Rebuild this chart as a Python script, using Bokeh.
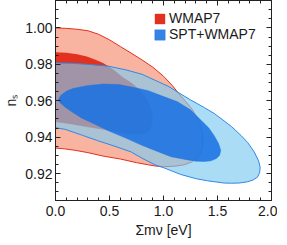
from bokeh.plotting import figure
from bokeh.models import Range1d, LinearAxis, FixedTicker, Legend, LegendItem
from bokeh.embed import file_html
from bokeh.resources import INLINE

# ---------------- data ----------------
x_ticks = [0.0, 0.5, 1.0, 1.5, 2.0]
x_tick_labels = ["0.0", "0.5", "1.0", "1.5", "2.0"]
x_minor = [0.0, 0.1, 0.2, 0.3, 0.4, 0.5, 0.6, 0.7, 0.8, 0.9, 1.0,
           1.1, 1.2, 1.3, 1.4, 1.5, 1.6, 1.7, 1.8, 1.9, 2.0]
y_ticks = [0.92, 0.94, 0.96, 0.98, 1.00]
y_tick_labels = ["0.92", "0.94", "0.96", "0.98", "1.00"]
y_minor = [0.905, 0.910, 0.915, 0.920, 0.925, 0.930, 0.935, 0.940, 0.945,
           0.950, 0.955, 0.960, 0.965, 0.970, 0.975, 0.980, 0.985, 0.990,
           0.995, 1.000, 1.005, 1.010, 1.015]

series_names = ["WMAP7", "SPT+WMAP7"]
x_title = "Σmν [eV]"
y_title = "nₛ"

# WMAP7 95% contour
red95_x = [0.00, 0.10, 0.20, 0.30, 0.40, 0.50, 0.60, 0.70, 0.80, 0.90, 1.00, 1.08,
           1.13, 1.20, 1.27, 1.33, 1.36, 1.365, 1.35, 1.32, 1.26, 1.19, 1.10, 1.00,
           0.92, 0.86, 0.75, 0.60, 0.45, 0.30, 0.18, 0.08, 0.00]
red95_y = [1.0000, 0.9998, 0.9993, 0.9985, 0.9965, 0.9935, 0.9898, 0.9862, 0.9825,
           0.9785, 0.9735, 0.9685, 0.9648, 0.9600, 0.9550, 0.9485, 0.9426, 0.9365,
           0.9320, 0.9292, 0.9263, 0.9248, 0.9240, 0.9238, 0.9242, 0.9248, 0.9260,
           0.9280, 0.9295, 0.9315, 0.9328, 0.9336, 0.9340]
# WMAP7 68% contour
red68_x = [0.00, 0.10, 0.20, 0.29, 0.37, 0.44, 0.49, 0.55, 0.62, 0.70, 0.76, 0.82,
           0.86, 0.89, 0.90, 0.895, 0.87, 0.82, 0.75, 0.65, 0.49, 0.35, 0.24, 0.12, 0.00]
red68_y = [0.9867, 0.9864, 0.9855, 0.9843, 0.9825, 0.9808, 0.9790, 0.9765, 0.9730,
           0.9700, 0.9670, 0.9630, 0.9595, 0.9550, 0.9510, 0.9470, 0.9435, 0.9420,
           0.9415, 0.9420, 0.9437, 0.9450, 0.9462, 0.9474, 0.9484]
# SPT+WMAP7 95% contour
blue95_x = [0.00, 0.15, 0.30, 0.49, 0.65, 0.80, 0.95, 1.05, 1.13, 1.25, 1.38, 1.47,
            1.56, 1.63, 1.72, 1.78, 1.84, 1.88, 1.895, 1.89, 1.87, 1.83, 1.78, 1.70,
            1.63, 1.56, 1.41, 1.30, 1.16, 1.01, 0.92, 0.80, 0.70, 0.55, 0.39, 0.25,
            0.09, 0.00]
blue95_y = [0.9808, 0.9806, 0.9800, 0.9790, 0.9770, 0.9746, 0.9705, 0.9678, 0.9648,
            0.9605, 0.9562, 0.9530, 0.9490, 0.9458, 0.9408, 0.9370, 0.9319, 0.9270,
            0.9235, 0.9205, 0.9180, 0.9165, 0.9155, 0.9148, 0.9147, 0.9148, 0.9160,
            0.9172, 0.9195, 0.9230, 0.9248, 0.9285, 0.9319, 0.9350, 0.9381, 0.9410,
            0.9443, 0.9452]
# SPT+WMAP7 68% contour
blue68_x = [0.025, 0.05, 0.10, 0.16, 0.29, 0.44, 0.59, 0.75, 0.86, 0.97, 1.13, 1.25,
            1.35, 1.42, 1.47, 1.51, 1.53, 1.52, 1.49, 1.44, 1.38, 1.30, 1.225, 1.07,
            0.95, 0.80, 0.65, 0.49, 0.35, 0.24, 0.15, 0.09, 0.05, 0.025]
blue68_y = [0.9603, 0.9630, 0.9652, 0.9667, 0.9683, 0.9692, 0.9689, 0.9670, 0.9655,
            0.9630, 0.9595, 0.9550, 0.9492, 0.9450, 0.9408, 0.9365, 0.9328, 0.9300,
            0.9283, 0.9270, 0.9266, 0.9268, 0.9275, 0.9292, 0.9320, 0.9355, 0.9395,
            0.9435, 0.9475, 0.9506, 0.9540, 0.9565, 0.9585, 0.9603]

# ---------------- styles ----------------
FONT = "Liberation Sans"
INK = "#1a1a1a"
FRAME = "#222222"
RED95_FILL = "#f8b4a0"
RED_LINE = "#e3301e"
RED68_FILL = "#e2321f"
BLUE95_FILL = "#7ec9f0"
BLUE_LINE = "#2f88e6"
BLUE68_FILL = "#1a72e2"

p = figure(frame_width=216, frame_height=200,
           x_range=Range1d(0.0, 2.0), y_range=Range1d(0.9052, 1.0151),
           output_backend="svg", toolbar_location=None,
           min_border_left=49, min_border_right=6,
           min_border_top=0, min_border_bottom=29)
p.xgrid.visible = False
p.ygrid.visible = False
p.outline_line_color = FRAME
p.outline_line_width = 1
p.background_fill_color = "white"
p.border_fill_color = "white"

def style_axis(ax, ticks, minor, labels, show_labels):
    ax.ticker = FixedTicker(ticks=ticks, minor_ticks=minor)
    ax.axis_line_color = FRAME
    ax.major_tick_line_color = FRAME
    ax.minor_tick_line_color = FRAME
    ax.major_tick_in = 5
    ax.major_tick_out = 0
    ax.minor_tick_in = 3
    ax.minor_tick_out = 0
    if show_labels:
        ax.major_label_overrides = {t: l for t, l in zip(ticks, labels)}
        ax.major_label_text_font = FONT
        ax.major_label_text_font_size = "14px"
        ax.major_label_text_color = INK
        ax.axis_label_text_font = FONT
        ax.axis_label_text_font_size = "14px"
        ax.axis_label_text_font_style = "normal"
        ax.axis_label_text_color = INK
    else:
        ax.major_label_text_color = None
        ax.major_label_standoff = 0
        ax.axis_label = None

style_axis(p.xaxis[0], x_ticks, x_minor, x_tick_labels, True)
style_axis(p.yaxis[0], y_ticks, y_minor, y_tick_labels, True)
p.xaxis[0].axis_label = x_title
p.xaxis[0].major_label_standoff = 5
p.xaxis[0].axis_label_standoff = 3
p.yaxis[0].axis_label = y_title
p.yaxis[0].major_label_standoff = 3
p.yaxis[0].axis_label_standoff = 3

top_ax = LinearAxis()
style_axis(top_ax, x_ticks, x_minor, x_tick_labels, False)
p.add_layout(top_ax, "above")
right_ax = LinearAxis()
style_axis(right_ax, y_ticks, y_minor, y_tick_labels, False)
p.add_layout(right_ax, "right")

# ---------------- contours ----------------
p.patch(red95_x, red95_y, fill_color=RED95_FILL, line_alpha=0)
p.line(red95_x, red95_y, line_color=RED_LINE, line_width=1)
r68 = p.patch(red68_x, red68_y, fill_color=RED68_FILL, line_alpha=0)
p.patch(blue95_x, blue95_y, fill_color=BLUE95_FILL, fill_alpha=0.65, line_alpha=0)
p.line(blue95_x, blue95_y, line_color=BLUE_LINE, line_width=1)
b68 = p.patch(blue68_x, blue68_y, fill_color=BLUE68_FILL, fill_alpha=0.88,
              line_color=BLUE68_FILL, line_alpha=0.5, line_width=0.8)

# ---------------- legend ----------------
legend = Legend(items=[LegendItem(label=series_names[0], renderers=[r68]),
                       LegendItem(label=series_names[1], renderers=[b68])],
                location=(98, 158), glyph_width=13, glyph_height=13,
                label_height=13, label_width=20, label_standoff=3, spacing=0,
                padding=0, margin=0, background_fill_alpha=0, border_line_alpha=0,
                label_text_font=FONT, label_text_font_size="14px",
                label_text_color=INK)
p.add_layout(legend)

open("out.html", "w").write(file_html(p, INLINE))
